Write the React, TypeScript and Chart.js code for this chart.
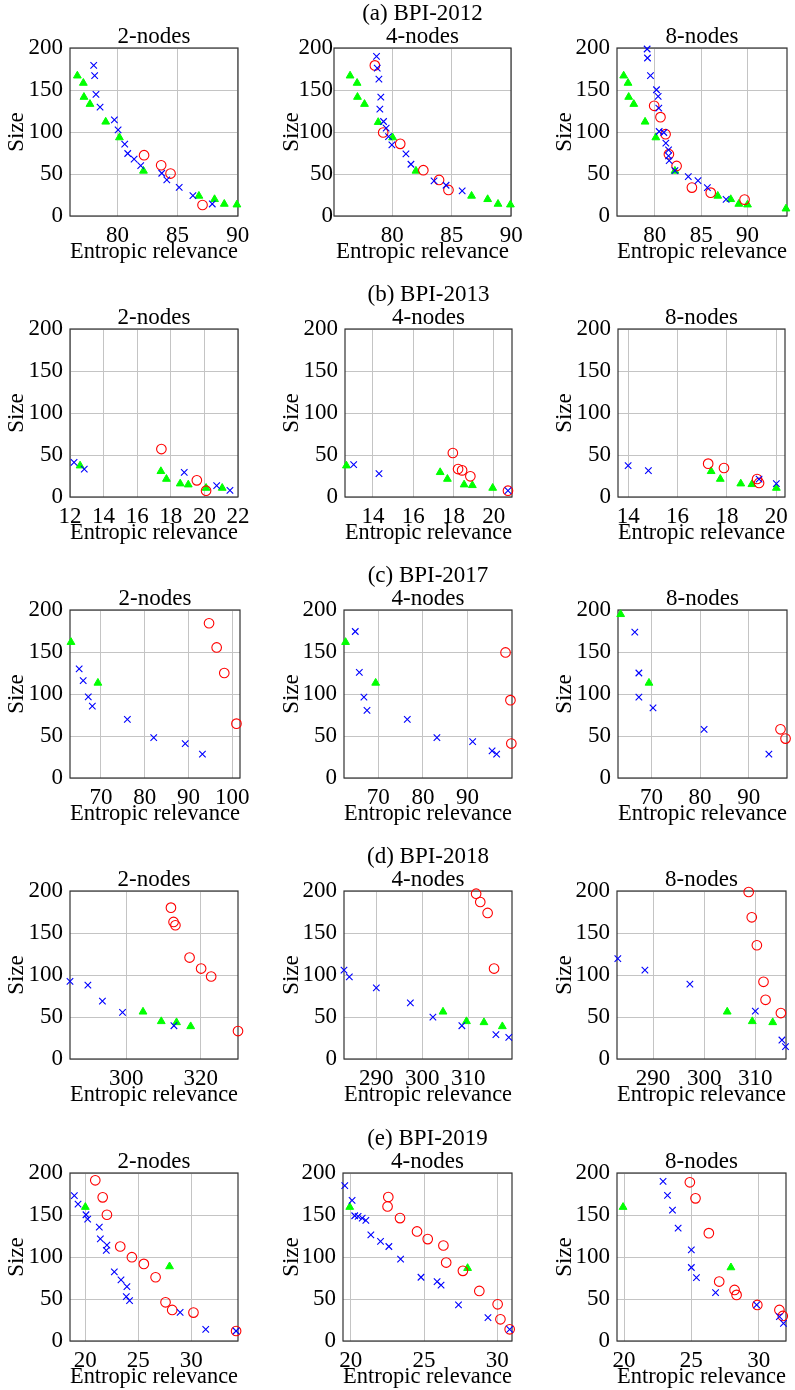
import React, { useEffect, useRef } from 'react';
import { Chart, registerables } from 'chart.js';

Chart.register(...registerables);

type Pt = [number, number];

// ---------- tick labels / titles ----------
const ROW_TITLES = ['(a) BPI-2012', '(b) BPI-2013', '(c) BPI-2017', '(d) BPI-2018', '(e) BPI-2019'];
const SUB_TITLES = ['2-nodes', '4-nodes', '8-nodes'];
const X_TITLE = 'Entropic relevance';
const Y_TITLE = 'Size';
const yTicks = [0, 50, 100, 150, 200];
const xTicksA = [80, 85, 90];
const xTicksB1 = [12, 14, 16, 18, 20, 22];
const xTicksB23 = [14, 16, 18, 20];
const xTicksC1 = [70, 80, 90, 100];
const xTicksC23 = [70, 80, 90];
const xTicksD1 = [300, 320];
const xTicksD23 = [290, 300, 310];
const xTicksE = [20, 25, 30];

// ---------- data: (a) BPI-2012 ----------
const a1Triangle: Pt[] = [[76.67, 167], [77.17, 158.3], [77.22, 141.6], [77.72, 133.2], [79.03, 112.1], [80.17, 93.4], [82.17, 53.7], [86.78, 23.9], [88.08, 19.9], [88.89, 14.3], [89.94, 13.5]];
const a1Cross: Pt[] = [[78.03, 179.3], [78.11, 167], [78.22, 144.7], [78.56, 129.6], [79.75, 114.5], [80.06, 102.6], [80.61, 85.5], [80.86, 74.4], [81.39, 67.6], [81.94, 60], [83.69, 50.9], [84.11, 42.9], [85.14, 34.2], [86.28, 24.3], [87.89, 14.3]];
const a1Circle: Pt[] = [[82.22, 72.4], [83.64, 60.4], [84.42, 50.5], [87.08, 13.1]];

const a2Triangle: Pt[] = [[76.46, 167], [77.05, 158.3], [77.08, 141.6], [77.67, 133.2], [78.82, 111.7], [80.03, 93.4], [81.99, 53.7], [86.66, 23.9], [88.01, 19.9], [88.88, 14.3], [89.92, 13.5]];
const a2Cross: Pt[] = [[78.68, 190], [78.74, 176.1], [78.88, 163], [79.04, 141.6], [78.96, 127.2], [79.27, 112.5], [79.49, 104.6], [79.69, 94.6], [79.97, 84.7], [81.15, 74], [81.57, 61.6], [83.51, 41.7], [84.52, 36.6], [85.87, 29.8]];
const a2Circle: Pt[] = [[78.54, 179.3], [79.24, 99.4], [80.67, 85.9], [82.61, 54.5], [83.93, 42.9], [84.72, 31]];

const a3Triangle: Pt[] = [[76.64, 167], [77.11, 158.3], [77.18, 141.6], [77.73, 133.2], [78.95, 112.1], [80.11, 93.4], [82.17, 53.7], [86.79, 23.9], [88.19, 19.9], [89.06, 14.3], [90, 13.5], [94.15, 8.7]];
const a3Cross: Pt[] = [[79.17, 198.8], [79.21, 188.1], [79.53, 167], [80.18, 150.3], [80.36, 142.3], [80.43, 128.4], [80.47, 100.6], [80.97, 99.4], [81.19, 86.7], [81.48, 78.7], [81.48, 71.6], [81.55, 66], [82.17, 54.1], [83.61, 46.9], [84.66, 42.1], [85.67, 33.8], [87.69, 19.9]];
const a3Circle: Pt[] = [[79.93, 131.2], [80.61, 117.7], [81.16, 97.4], [81.52, 73.6], [82.35, 59.6], [84, 33.8], [86.03, 27.8], [89.68, 19.5]];

// ---------- data: (b) BPI-2013 ----------
const b1Cross: Pt[] = [[12.24, 41.3], [12.85, 33.3], [18.8, 29.4], [20.73, 13.5], [21.52, 7.9]];
const b1Triangle: Pt[] = [[12.6, 37.3], [17.41, 30.6], [17.74, 21.4], [18.56, 15.9], [19.04, 14.7], [20.1, 10.7], [21.06, 10.7]];
const b1Circle: Pt[] = [[17.44, 57.1], [19.55, 19.8], [20.1, 7.5]];

const b2Cross: Pt[] = [[13.04, 38.5], [14.3, 27.8], [20.71, 7.5]];
const b2Triangle: Pt[] = [[12.68, 37.3], [17.34, 29.4], [17.7, 21.4], [18.53, 14.7], [18.94, 13.9], [19.95, 10.7]];
const b2Circle: Pt[] = [[17.97, 52.4], [18.23, 33.3], [18.43, 31.7], [18.84, 24.6], [20.71, 7.5]];

const b3Cross: Pt[] = [[14, 37.3], [14.82, 31.3], [19.3, 21.4], [20, 15.9]];
const b3Triangle: Pt[] = [[17.36, 30.6], [17.73, 21.4], [18.56, 15.9], [19.01, 15.1], [20, 10.7]];
const b3Circle: Pt[] = [[17.24, 39.7], [17.88, 34.5], [19.22, 21.4], [19.3, 16.7]];

// ---------- data: (c) BPI-2017 ----------
const c1Triangle: Pt[] = [[63.16, 161.7], [69.3, 113.2]];
const c1Cross: Pt[] = [[65.02, 129.8], [65.94, 116], [67.1, 96.6], [68.03, 85.6], [76.03, 69.8], [82.05, 48.1], [89.24, 41], [93.17, 28.4]];
const c1Circle: Pt[] = [[94.68, 184.2], [96.42, 155.4], [98.16, 125], [100.94, 64.7]];

const c2Triangle: Pt[] = [[62.69, 161.7], [69.43, 113.2]];
const c2Cross: Pt[] = [[64.86, 174.4], [65.77, 125.8], [66.8, 96.3], [67.49, 80.5], [76.51, 69.8], [83.14, 48.1], [91.14, 43.4], [95.49, 32.3], [96.51, 28.4]];
const c2Circle: Pt[] = [[98.5, 149.5], [99.6, 92.7], [99.8, 41]];

const c3Triangle: Pt[] = [[63.65, 194.9], [69.48, 113.2]];
const c3Cross: Pt[] = [[66.56, 173.6], [67.4, 125], [67.4, 96.3], [70.31, 83.6], [80.83, 58], [94.17, 28.4]];
const c3Circle: Pt[] = [[96.56, 58], [97.6, 46.9]];

// ---------- data: (d) BPI-2018 ----------
const d1Cross: Pt[] = [[284.9, 92.3], [289.7, 87.9], [293.6, 68.9], [299, 55.4], [312.8, 39.6]];
const d1Triangle: Pt[] = [[304.5, 56.2], [309.4, 44.8], [313.5, 43.6], [317.3, 38.8]];
const d1Circle: Pt[] = [[312, 180.2], [312.7, 163.2], [313.2, 159.2], [317, 120.8], [320.1, 107.7], [322.8, 98.2], [330, 33.3]];

const d2Cross: Pt[] = [[282.97, 105.7], [284.13, 97.8], [290, 84.8], [297.4, 66.9], [302.3, 49.9], [308.6, 39.6], [316, 28.9], [318.8, 25.7]];
const d2Triangle: Pt[] = [[304.5, 56.2], [309.6, 44.8], [313.4, 43.6], [317.4, 38.8]];
const d2Circle: Pt[] = [[311.7, 196.8], [312.6, 186.9], [314.2, 173.9], [315.6, 107.7]];

const d3Cross: Pt[] = [[283.1, 119.6], [288.4, 105.7], [297.2, 89.1], [310, 57], [315.2, 22.6], [315.9, 14.7]];
const d3Triangle: Pt[] = [[304.5, 56.2], [309.4, 44.8], [313.4, 43.6]];
const d3Circle: Pt[] = [[308.7, 198.8], [309.3, 168.7], [310.3, 135.4], [311.6, 91.9], [312, 70.5], [315, 54.7]];

// ---------- data: (e) BPI-2019 ----------
const e1Cross: Pt[] = [[18.96, 173], [19.31, 163], [20.06, 150.3], [20.22, 145.1], [21.32, 135.6], [21.42, 121.7], [22.04, 114.1], [21.98, 107.8], [22.74, 82.3], [23.37, 72.8], [23.93, 64.8], [23.87, 52.9], [24.18, 48.1], [28.96, 34.2], [31.38, 13.9], [34.25, 11.9]];
const e1Triangle: Pt[] = [[20, 159.4], [27.96, 88.7]];
const e1Circle: Pt[] = [[20.94, 191.3], [21.64, 171], [22.04, 150.3], [23.3, 112.5], [24.4, 99.8], [25.53, 91.8], [26.64, 75.9], [27.58, 46.1], [28.21, 37], [30.22, 33.8], [34.25, 11.9]];

const e2Cross: Pt[] = [[19.59, 184.9], [20.09, 167.4], [20.27, 149.1], [20.5, 148.3], [20.78, 146.3], [21.03, 143.5], [21.37, 126.4], [22.03, 118.5], [22.6, 112.5], [23.4, 97.4], [24.79, 75.9], [25.89, 70.8], [26.16, 66.4], [27.35, 42.9], [29.36, 27.8], [30.84, 13.9]];
const e2Triangle: Pt[] = [[19.93, 159.4], [27.97, 86.7]];
const e2Circle: Pt[] = [[22.56, 171.4], [22.51, 160.2], [23.36, 146.3], [24.52, 130.4], [25.25, 121.3], [26.32, 113.7], [26.51, 93.4], [27.65, 83.5], [28.77, 59.6], [30.02, 43.7], [30.21, 25.8], [30.84, 13.9]];

const e3Cross: Pt[] = [[22.9, 190.1], [23.23, 173.4], [23.6, 155.9], [24.02, 134.4], [25, 108.5], [25, 87.5], [25.38, 75.5], [26.8, 57.7], [29.85, 42.9], [31.54, 29], [31.84, 21.1]];
const e3Triangle: Pt[] = [[19.93, 159.4], [27.94, 87.5]];
const e3Circle: Pt[] = [[24.89, 188.9], [25.31, 169.8], [26.3, 128.4], [27.07, 70.8], [28.21, 60.8], [28.36, 54.9], [29.9, 42.9], [31.54, 37], [31.79, 29.8]];

// ---------- layout (positions / styles) ----------
const FONT = "'Liberation Serif', 'Times New Roman', Times, serif";
const FS = 23;
const LINE = 23;
const PLOT_H = 168;
const XAXIS_H = 47;
const ROW_TOPS = [48, 329, 610, 891, 1173];
const COL_LEFT = [0, 275, 548];
const PAGE_W = 795;

interface Panel {
  row: number; col: number;
  cross: Pt[]; circle: Pt[]; tri: Pt[];
  xMin: number; xMax: number; xTicks: number[];
  plotLeft: number; plotRight: number; yPad: number;
}

const PANELS: Panel[] = [
  { row: 0, col: 0, cross: a1Cross, circle: a1Circle, tri: a1Triangle, xMin: 76.06, xMax: 90.03, xTicks: xTicksA, plotLeft: 70, plotRight: 238, yPad: 7 },
  { row: 0, col: 1, cross: a2Cross, circle: a2Circle, tri: a2Triangle, xMin: 75.11, xMax: 89.97, xTicks: xTicksA, plotLeft: 334, plotRight: 511, yPad: 1 },
  { row: 0, col: 2, cross: a3Cross, circle: a3Circle, tri: a3Triangle, xMin: 75.92, xMax: 94.26, xTicks: xTicksA, plotLeft: 617, plotRight: 787, yPad: 7 },
  { row: 1, col: 0, cross: b1Cross, circle: b1Circle, tri: b1Triangle, xMin: 12, xMax: 22, xTicks: xTicksB1, plotLeft: 70, plotRight: 238, yPad: 7 },
  { row: 1, col: 1, cross: b2Cross, circle: b2Circle, tri: b2Triangle, xMin: 12.61, xMax: 20.91, xTicks: xTicksB23, plotLeft: 345, plotRight: 512, yPad: 7 },
  { row: 1, col: 2, cross: b3Cross, circle: b3Circle, tri: b3Triangle, xMin: 13.59, xMax: 20.35, xTicks: xTicksB23, plotLeft: 618, plotRight: 785, yPad: 7 },
  { row: 2, col: 0, cross: c1Cross, circle: c1Circle, tri: c1Triangle, xMin: 62.93, xMax: 101.75, xTicks: xTicksC1, plotLeft: 70, plotRight: 240, yPad: 7 },
  { row: 2, col: 1, cross: c2Cross, circle: c2Circle, tri: c2Triangle, xMin: 62.34, xMax: 99.95, xTicks: xTicksC23, plotLeft: 344, plotRight: 512, yPad: 7 },
  { row: 2, col: 2, cross: c3Cross, circle: c3Circle, tri: c3Triangle, xMin: 63.1, xMax: 97.9, xTicks: xTicksC23, plotLeft: 618, plotRight: 787, yPad: 7 },
  { row: 3, col: 0, cross: d1Cross, circle: d1Circle, tri: d1Triangle, xMin: 284.9, xMax: 330, xTicks: xTicksD1, plotLeft: 70, plotRight: 238, yPad: 7 },
  { row: 3, col: 1, cross: d2Cross, circle: d2Circle, tri: d2Triangle, xMin: 282.97, xMax: 319.5, xTicks: xTicksD23, plotLeft: 344, plotRight: 512, yPad: 7 },
  { row: 3, col: 2, cross: d3Cross, circle: d3Circle, tri: d3Triangle, xMin: 282.94, xMax: 316, xTicks: xTicksD23, plotLeft: 617, plotRight: 786, yPad: 7 },
  { row: 4, col: 0, cross: e1Cross, circle: e1Circle, tri: e1Triangle, xMin: 18.55, xMax: 34.43, xTicks: xTicksE, plotLeft: 70, plotRight: 238, yPad: 7 },
  { row: 4, col: 1, cross: e2Cross, circle: e2Circle, tri: e2Triangle, xMin: 19.47, xMax: 31.0, xTicks: xTicksE, plotLeft: 343, plotRight: 512, yPad: 7 },
  { row: 4, col: 2, cross: e3Cross, circle: e3Circle, tri: e3Triangle, xMin: 19.48, xMax: 32.03, xTicks: xTicksE, plotLeft: 617, plotRight: 786, yPad: 7 },
];

const framePlugin = {
  id: 'frameBox',
  beforeDatasetsDraw(chart: any) {
    const { ctx, chartArea } = chart;
    const { left, top, right, bottom } = chartArea;
    ctx.save();
    ctx.strokeStyle = '#333333';
    ctx.lineWidth = 1.2;
    ctx.strokeRect(left, top, right - left, bottom - top);
    ctx.restore();
  },
};

const toXY = (arr: Pt[]) => arr.map(([x, y]) => ({ x, y }));

function PanelChart({ p }: { p: Panel }) {
  const ref = useRef<HTMLCanvasElement>(null);
  const lines = p.col === 1 ? [ROW_TITLES[p.row], SUB_TITLES[1]] : [SUB_TITLES[p.col]];
  const titleH = lines.length * LINE;
  const plotTop = ROW_TOPS[p.row];
  const cl = COL_LEFT[p.col];
  const ct = plotTop - titleH;
  const padR = Math.min(20, PAGE_W - p.plotRight);
  const cw = p.plotRight - cl + padR;
  const ch = titleH + PLOT_H + XAXIS_H;
  const yw = p.plotLeft - cl;

  useEffect(() => {
    const font = { family: FONT, size: FS, lineHeight: 1 };
    const chart = new Chart(ref.current as HTMLCanvasElement, {
      type: 'scatter',
      data: {
        datasets: [
          {
            label: 'cross', data: toXY(p.cross), pointStyle: 'crossRot', pointRadius: 4.6,
            borderColor: '#0000ff', backgroundColor: '#0000ff', borderWidth: 1.1, clip: false,
          } as any,
          {
            label: 'circle', data: toXY(p.circle), pointStyle: 'circle', pointRadius: 4.8,
            borderColor: '#ff0000', backgroundColor: 'rgba(0,0,0,0)', borderWidth: 1.1, clip: false,
          } as any,
          {
            label: 'triangle', data: toXY(p.tri), pointStyle: 'triangle', pointRadius: 4.5,
            borderColor: '#00ff00', backgroundColor: '#00ff00', borderWidth: 1, clip: false,
          } as any,
        ],
      },
      options: {
        responsive: false,
        maintainAspectRatio: false,
        animation: false,
        events: [],
        layout: { padding: { left: 0, right: padR, top: 0, bottom: 0 } },
        plugins: {
          legend: { display: false },
          tooltip: { enabled: false },
          title: {
            display: true, text: lines, fullSize: false, color: '#000',
            font: { family: FONT, size: FS, lineHeight: LINE / FS, weight: 'normal' },
            padding: { top: 0, bottom: 0 },
          } as any,
        },
        scales: {
          x: {
            type: 'linear', min: p.xMin, max: p.xMax,
            afterBuildTicks: (s: any) => { s.ticks = p.xTicks.map((v) => ({ value: v })); },
            afterFit: (s: any) => { s.height = XAXIS_H; s.paddingLeft = 0; s.paddingRight = 0; },
            grid: { color: '#c4c4c4', lineWidth: 1, drawTicks: false },
            border: { display: false },
            ticks: { font, color: '#000', padding: 8, maxRotation: 0, autoSkip: false },
            title: { display: true, text: X_TITLE, font, color: '#000', padding: 0 },
          } as any,
          y: {
            type: 'linear', min: 0, max: 200,
            afterBuildTicks: (s: any) => { s.ticks = yTicks.map((v) => ({ value: v })); },
            afterFit: (s: any) => { s.width = yw; s.paddingTop = 0; s.paddingBottom = 0; },
            grid: { color: '#c4c4c4', lineWidth: 1, drawTicks: false },
            border: { display: false },
            ticks: { font, color: '#000', padding: p.yPad, autoSkip: false },
            title: { display: true, text: Y_TITLE, font, color: '#000', padding: { top: 5, bottom: 0 } },
          } as any,
        },
      },
      plugins: [framePlugin],
    });
    return () => chart.destroy();
  }, []);

  return (
    <div style={{ position: 'absolute', left: cl, top: ct, width: cw, height: ch }}>
      <canvas ref={ref} width={cw} height={ch} style={{ display: 'block', width: cw, height: ch }} />
    </div>
  );
}

export default function App() {
  return (
    <div style={{ position: 'absolute', left: 0, top: 0, width: PAGE_W, height: 1390, background: '#fff', overflow: 'hidden' }}>
      {PANELS.map((p, i) => (
        <PanelChart key={i} p={p} />
      ))}
    </div>
  );
}
